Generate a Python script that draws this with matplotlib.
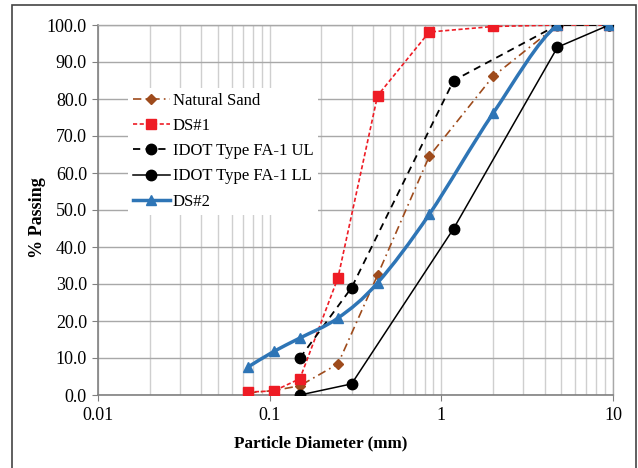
#!/usr/bin/env python3

import matplotlib
matplotlib.use("Agg")
import matplotlib.pyplot as plt
from matplotlib.lines import Line2D
from matplotlib.patches import PathPatch, Rectangle
from matplotlib.path import Path
from matplotlib.ticker import FixedLocator, LogLocator, NullFormatter
import numpy as np

# sieve sizes (mm) and percent passing for each gradation
sand_size = [0.075, 0.106, 0.15, 0.25, 0.425, 0.85, 2.0, 4.75, 9.5]
sand_pass = [0.6, 1.2, 2.5, 8.4, 32.4, 64.5, 86.1, 100.0, 100.0]

ds1_size = [0.075, 0.106, 0.15, 0.25, 0.425, 0.85, 2.0, 4.75, 9.5]
ds1_pass = [0.8, 1.1, 4.4, 31.7, 80.9, 98.1, 99.6, 100.0, 100.0]

ul_size = [0.15, 0.3, 1.18, 4.75, 9.5]
ul_pass = [10.0, 29.0, 85.0, 100.0, 100.0]

ll_size = [0.15, 0.3, 1.18, 4.75, 9.5]
ll_pass = [0.0, 3.0, 45.0, 94.0, 100.0]

ds2_size = [0.075, 0.106, 0.15, 0.25, 0.425, 0.85, 2.0, 4.75, 9.5]
ds2_pass = [7.6, 11.8, 15.4, 20.8, 30.3, 48.8, 76.1, 100.0, 100.0]

x_ticks = [0.01, 0.1, 1, 10]
x_tick_labels = ["0.01", "0.1", "1", "10"]
y_ticks = [0, 10, 20, 30, 40, 50, 60, 70, 80, 90, 100]

BROWN = "#9e4b1c"
RED = "#ee1c25"
BLUE = "#2e75b6"


def smooth_path(xs, ys):
    # Catmull-Rom style bezier through the points, built in (log x, y) space
    lx = np.log10(xs)
    ys = np.asarray(ys, dtype=float)
    pts = np.column_stack([lx, ys])
    pad = np.vstack([pts[0], pts, pts[-1]])
    verts = [pts[0]]
    codes = [Path.MOVETO]
    for i in range(1, len(pad) - 2):
        p0, p1, p2, p3 = pad[i - 1], pad[i], pad[i + 1], pad[i + 2]
        c1 = p1 + (p2 - p0) / 6.0
        c2 = p2 - (p3 - p1) / 6.0
        verts += [c1, c2, p2]
        codes += [Path.CURVE4] * 3
    verts = np.array(verts)
    verts[:, 0] = 10 ** verts[:, 0]
    return Path(verts, codes)


def main():
    plt.rcParams["font.family"] = ["Liberation Serif", "DejaVu Serif"]

    fig = plt.figure(figsize=(6.38, 4.68), dpi=100)
    ax = fig.add_axes([98 / 638, 1 - 395 / 468, 515 / 638, 370 / 468])

    # outer chart border (runs off the bottom edge)
    fig.patches.append(Rectangle((12 / 638, -0.05), 624 / 638, 1.05 - 5 / 468,
                                 transform=fig.transFigure, fill=False,
                                 edgecolor="#444444", linewidth=1.2))

    ax.set_xscale("log")
    ax.set_xlim(0.01, 10)
    ax.set_ylim(0, 100)

    ax.xaxis.set_major_locator(FixedLocator(x_ticks))
    ax.set_xticklabels(x_tick_labels)
    ax.xaxis.set_minor_locator(LogLocator(base=10, subs=np.arange(2, 10)))
    ax.xaxis.set_minor_formatter(NullFormatter())
    ax.set_yticks(y_ticks)
    ax.set_yticklabels([f"{v:.1f}" for v in y_ticks])

    ax.grid(True, axis="x", which="both", color="#cfcfcf", linewidth=1.0, zorder=0)
    ax.grid(True, axis="y", which="major", color="#a8a8a8", linewidth=1.0, zorder=0)
    ax.set_axisbelow(True)

    for side in ["left", "bottom"]:
        ax.spines[side].set_color("#808080")
        ax.spines[side].set_linewidth(1.2)
    for side in ["top", "right"]:
        ax.spines[side].set_color("#a8a8a8")
        ax.spines[side].set_linewidth(1.0)

    ax.tick_params(axis="y", which="major", length=4, color="#808080",
                   labelsize=13, pad=4)
    ax.tick_params(axis="x", which="major", length=4, color="#808080",
                   labelsize=13, pad=5)
    ax.tick_params(axis="x", which="minor", length=0)

    ax.plot(sand_size, sand_pass, color=BROWN, linestyle=(0, (5, 2.5, 1, 2.5)),
            linewidth=1.2, marker="D", markersize=5.5, label="Natural Sand",
            zorder=3)
    ax.plot(ds1_size, ds1_pass, color=RED, linestyle=(0, (2.5, 1.5)),
            linewidth=1.2, marker="s", markersize=7.5, label="DS#1", zorder=4)
    ax.plot(ul_size, ul_pass, color="black", linestyle=(0, (4, 3)),
            linewidth=1.3, marker="o", markersize=7.5,
            label="IDOT Type FA-1 UL", zorder=4)
    ax.plot(ll_size, ll_pass, color="black", linestyle="-",
            linewidth=1.1, marker="o", markersize=7.5,
            label="IDOT Type FA-1 LL", zorder=4)

    # DS#2 is drawn as a smoothed curve with its markers on top
    ax.add_patch(PathPatch(smooth_path(ds2_size, ds2_pass), fill=False,
                           edgecolor=BLUE, linewidth=2.5, zorder=5))
    ax.plot(ds2_size, ds2_pass, color=BLUE, linestyle="none", marker="^",
            markersize=7.5, zorder=6)

    handles, labels = ax.get_legend_handles_labels()
    handles.append(Line2D([], [], color=BLUE, linewidth=2.5, marker="^",
                          markersize=7.5))
    labels.append("DS#2")
    leg = ax.legend(handles, labels, loc="upper left",
                    bbox_to_anchor=(0.058, 0.83), frameon=True, fancybox=False,
                    edgecolor="none", facecolor="white", framealpha=1.0,
                    fontsize=12, handlelength=2.2, handletextpad=0.2,
                    labelspacing=0.55, borderpad=0.3, borderaxespad=0)
    leg.set_zorder(10)

    fig.text(321 / 638, 1 - 443 / 468, "Particle Diameter (mm)", ha="center",
             va="center", fontsize=12.3, fontweight="bold")
    fig.text(37 / 638, 1 - 218 / 468, "% Passing", ha="center", va="center",
             rotation=90, fontsize=13, fontweight="bold")

    fig.savefig("out.png", dpi=100)


if __name__ == "__main__":
    main()
